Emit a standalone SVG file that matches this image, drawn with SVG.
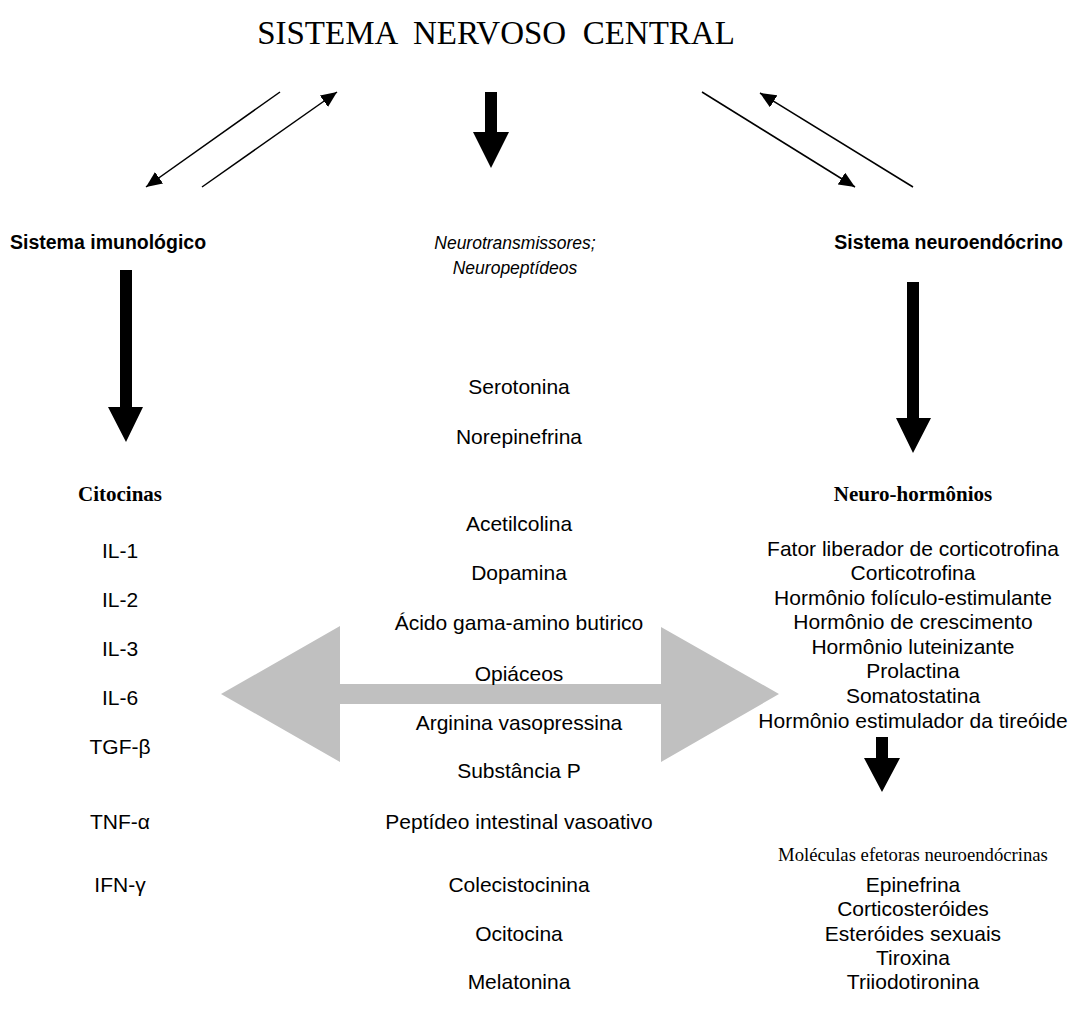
<svg xmlns="http://www.w3.org/2000/svg" width="1077" height="1021" viewBox="0 0 1077 1021">
<defs>
<style>
text{font-family:"Liberation Sans",Arial,sans-serif;fill:#000}
.t{font-family:"Liberation Serif","Times New Roman",serif;font-size:33px;white-space:pre}
.h{font-weight:bold;font-size:19.5px}
.it{font-style:italic;font-size:17.5px;text-anchor:middle}
.r{font-size:21px;text-anchor:middle}
.tb{font-family:"Liberation Serif","Times New Roman",serif;font-weight:bold;font-size:21px;text-anchor:middle}
.tr{font-family:"Liberation Serif","Times New Roman",serif;font-size:18.7px;text-anchor:middle}
.thin{stroke:#000;stroke-width:1.5;fill:none;marker-end:url(#ah)}
.blk{fill:#000}
</style>
<marker id="ah" markerUnits="userSpaceOnUse" markerWidth="18" markerHeight="14" refX="16" refY="7" orient="auto">
<path d="M0,0 L16,7 L0,14 Z" fill="#000"/>
</marker>
</defs>
<rect width="1077" height="1021" fill="#fff"/>
<g id="title"><text class="t" x="496" y="44" text-anchor="middle">SISTEMA  NERVOSO  CENTRAL</text></g>
<g id="connectors">
<line class="thin" x1="280" y1="92" x2="146" y2="187"/>
<line class="thin" x1="202" y1="187" x2="337" y2="92"/>
<line class="thin" x1="702" y1="92" x2="855" y2="187"/>
<line class="thin" x1="913" y1="187" x2="760" y2="93"/>
<polygon class="blk" points="485,92 497,92 497,132 509,132 491,168 473,132 485,132"/>
<polygon class="blk" points="120,270 132,270 132,407 143,407 126,442 108,407 120,407"/>
<polygon class="blk" points="907,282 919,282 919,418 931,418 913,453 896,418 907,418"/>
<polygon class="blk" points="876,737 888,737 888,758 900,758 882,792 864,758 876,758"/>
<polygon fill="#c0c0c0" points="221,694 340,626 340,684 661,684 661,627 779,694 661,762 661,704 340,704 340,762"/>
</g>
<g id="imuno">
<text class="h" x="10" y="249">Sistema imunológico</text>
<text class="tb" x="120" y="501">Citocinas</text>
<text class="r" x="120" y="558">IL-1</text>
<text class="r" x="120" y="607">IL-2</text>
<text class="r" x="120" y="656">IL-3</text>
<text class="r" x="120" y="705">IL-6</text>
<text class="r" x="120" y="754">TGF-β</text>
<text class="r" x="120" y="829">TNF-α</text>
<text class="r" x="120" y="892">IFN-γ</text>
</g>
<g id="neurotrans">
<text class="it" x="515" y="249">Neurotransmissores;</text>
<text class="it" x="515" y="274">Neuropeptídeos</text>
<text class="r" x="519" y="394">Serotonina</text>
<text class="r" x="519" y="444">Norepinefrina</text>
<text class="r" x="519" y="531">Acetilcolina</text>
<text class="r" x="519" y="580">Dopamina</text>
<text class="r" x="519" y="630">Ácido gama-amino butirico</text>
<text class="r" x="519" y="681">Opiáceos</text>
<text class="r" x="519" y="730">Arginina vasopressina</text>
<text class="r" x="519" y="778">Substância P</text>
<text class="r" x="519" y="829">Peptídeo intestinal vasoativo</text>
<text class="r" x="519" y="892">Colecistocinina</text>
<text class="r" x="519" y="941">Ocitocina</text>
<text class="r" x="519" y="989">Melatonina</text>
</g>
<g id="neuroendo">
<text class="h" x="1063" y="249" text-anchor="end">Sistema neuroendócrino</text>
<text class="tb" x="913" y="501">Neuro-hormônios</text>
<text class="r" x="913" y="556">Fator liberador de corticotrofina</text>
<text class="r" x="913" y="580">Corticotrofina</text>
<text class="r" x="913" y="605">Hormônio folículo-estimulante</text>
<text class="r" x="913" y="629">Hormônio de crescimento</text>
<text class="r" x="913" y="654">Hormônio luteinizante</text>
<text class="r" x="913" y="678">Prolactina</text>
<text class="r" x="913" y="703">Somatostatina</text>
<text class="r" x="913" y="728">Hormônio estimulador da tireóide</text>
<text class="tr" x="913" y="861">Moléculas efetoras neuroendócrinas</text>
<text class="r" x="913" y="892">Epinefrina</text>
<text class="r" x="913" y="916">Corticosteróides</text>
<text class="r" x="913" y="941">Esteróides sexuais</text>
<text class="r" x="913" y="965">Tiroxina</text>
<text class="r" x="913" y="989">Triiodotironina</text>
</g>
</svg>
